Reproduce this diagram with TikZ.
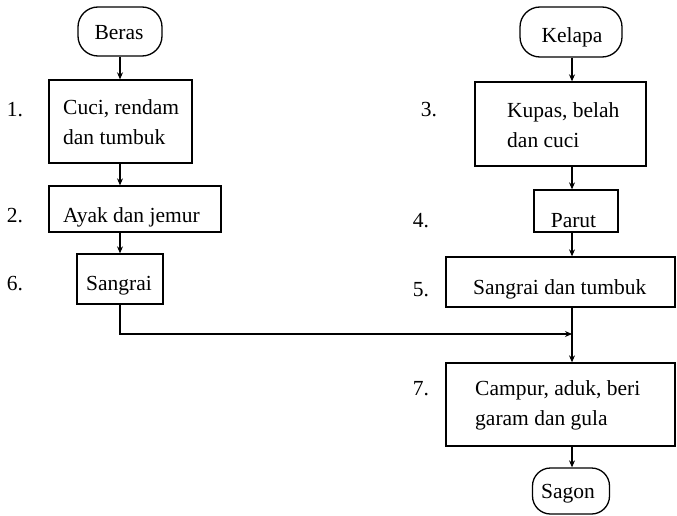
\documentclass[tikz,border=0pt]{standalone}
\usepackage{fontspec}
\setmainfont{Liberation Serif}
\usetikzlibrary{arrows.meta}
\begin{document}
\begin{tikzpicture}[x=1pt,y=-1pt,
  every node/.style={font=\fontsize{21.5}{30}\selectfont},
  procbox/.style={draw,line width=1.3pt,rectangle,inner sep=0pt},
  termbox/.style={draw,line width=1.3pt,rectangle,rounded corners=20pt,inner sep=0pt},
  txt/.style={inner sep=0pt,align=left},
  numlabel/.style={anchor=base,inner sep=0pt},
  flow/.style={line width=1.1pt,-{Stealth[length=7pt,width=6pt]}}]
\useasboundingbox (0,0) rectangle (677,516);
% left column boxes
\node[termbox,minimum width=84pt,minimum height=49pt] (beras) at (120,31.5) {};
\node[procbox,minimum width=143pt,minimum height=83pt] (b1) at (120.5,121.5) {};
\node[procbox,minimum width=172pt,minimum height=46pt] (b2) at (135,209) {};
\node[procbox,minimum width=86pt,minimum height=50pt] (b6) at (120,279) {};
% right column boxes
\node[termbox,minimum width=102pt,minimum height=50pt] (kelapa) at (571,32) {};
\node[procbox,minimum width=171pt,minimum height=84pt] (b3) at (560.5,124) {};
\node[procbox,minimum width=84pt,minimum height=42pt] (b4) at (576,211) {};
\node[procbox,minimum width=229pt,minimum height=50pt] (b5) at (560.5,282) {};
\node[procbox,minimum width=229pt,minimum height=83pt] (b7) at (560.5,404.5) {};
\node[termbox,minimum width=77pt,minimum height=46pt,rounded corners=18pt] (sagon) at (571,491) {};
% texts
\node[txt,anchor=base] (tberas) at (119,40) {Beras};
\node[txt,anchor=base west] (t1) at (63,145) {Cuci, rendam\\dan tumbuk};
\node[txt,anchor=base west] (t2) at (63,222) {Ayak dan jemur};
\node[txt,anchor=base] (t6) at (119,290) {Sangrai};
\node[txt,anchor=base] (tkelapa) at (572,43) {Kelapa};
\node[txt,anchor=base west] (t3) at (507,147) {Kupas, belah\\dan cuci};
\node[txt,anchor=base] (t4) at (573.5,227) {Parut};
\node[txt,anchor=base west] (t5) at (473,294) {Sangrai dan tumbuk};
\node[txt,anchor=base west] (t7) at (475,425) {Campur, aduk, beri\\garam dan gula};
\node[txt,anchor=base] (tsagon) at (568,498) {Sagon};
% number labels
\node[numlabel] (n1) at (15,117) {1.};
\node[numlabel] (n2) at (15,222) {2.};
\node[numlabel] (n6) at (15,290) {6.};
\node[numlabel] (n3) at (429,117) {3.};
\node[numlabel] (n4) at (421,227) {4.};
\node[numlabel] (n5) at (421,296) {5.};
\node[numlabel] (n7) at (421,395) {7.};
% connectors
\coordinate (rc) at (572,0);
\coordinate (merge) at (572,334);
\draw[flow] (beras.south) -- (beras.south |- b1.north);
\draw[flow] (beras.south |- b1.south) -- (beras.south |- b2.north);
\draw[flow] (b6.north |- b2.south) -- (b6.north);
\draw[flow] (rc |- kelapa.south) -- (rc |- b3.north);
\draw[flow] (rc |- b3.south) -- (rc |- b4.north);
\draw[flow] (rc |- b4.south) -- (rc |- b5.north);
\draw[flow] (rc |- b5.south) -- (rc |- b7.north);
\draw[flow] (b6.south) |- (merge);
\draw[flow] (rc |- b7.south) -- (rc |- sagon.north);
\end{tikzpicture}
\end{document}
